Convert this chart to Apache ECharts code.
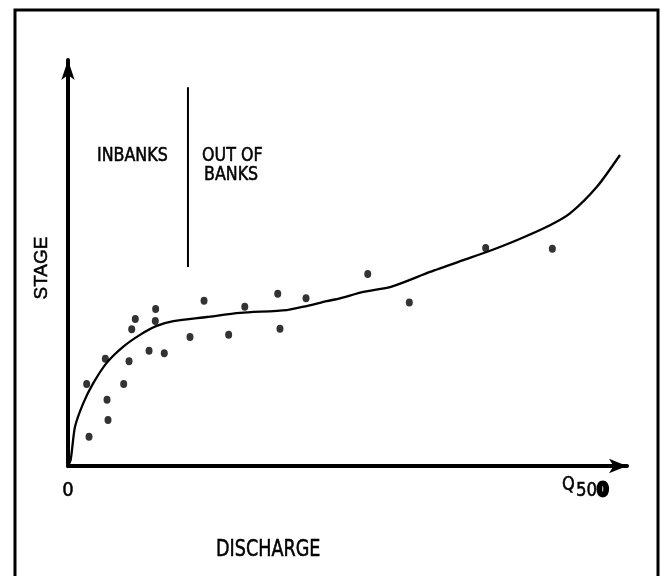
<!DOCTYPE html>
<html>
<head>
<meta charset="utf-8">
<script src="https://cdn.jsdelivr.net/npm/echarts@6/dist/echarts.min.js"></script>
<style>
  html, body { margin: 0; padding: 0; background: #fff; }
  #chart { width: 662px; height: 576px; }
</style>
</head>
<body>
<div id="chart"></div>
<script>
// Observed gauge readings: discharge (x) and stage (y)
const obsDischarge = [16.7, 18.8, 33.4, 34.9, 35.8, 49.8, 54.6, 57.0, 60.2, 72.5, 78.4, 78.1,
  86.1, 109.1, 121.7, 143.7, 158.1, 187.6, 189.6, 212.9, 268.1, 305.3, 373.6, 433.2];
const obsStage = [20.2, 7.2, 26.4, 16.3, 11.3, 20.2, 25.8, 33.7, 36.2, 28.4, 38.7, 35.7,
  27.8, 31.8, 40.7, 32.3, 39.2, 42.4, 33.8, 41.3, 47.3, 40.3, 53.7, 53.5];

// Fitted stage-discharge rating curve
const curveDischarge = [0, 2.4, 6.3, 13.7, 22.6, 34.6, 49.5, 64.4, 79.3, 94.2, 124.1, 153.9,
  195.6, 213.5, 231.4, 243.3, 264.1, 289.5, 323.8, 353.6, 374.5, 401.3, 431.1, 449.0, 472.9, 493.7];
const curveStage = [0, 1.5, 9.7, 15.5, 20.4, 25.4, 29.4, 32.3, 34.5, 35.7, 36.7, 37.7,
  38.4, 39.4, 40.6, 41.3, 42.9, 44.2, 47.8, 50.7, 52.7, 55.6, 59.3, 62.2, 68.7, 76.6];

// Bankfull divide between in-bank and out-of-bank flow
const bankDischarge = [107.3, 107.3];
const bankStage = [49.0, 93.3];

// Axis extents and labelled ticks
const xRange = [0, 500];
const yRange = [0, 100];
const xTickLabels = ['0'];

const zip = (a, b) => a.map((v, i) => [v, b[i]]);

const narrow = '"Liberation Sans Narrow", "DejaVu Sans Condensed", "Roboto Condensed", sans-serif';
const plain = '"Liberation Sans", Arial, sans-serif';
// plotter-style lettering: slightly heavier strokes
const ink = { fill: '#000', stroke: '#000', lineWidth: 0.5 };

// left-aligned, vertically centred lettering, squeezed horizontally
function lettering(text, x, y, size, squeeze, extra) {
  return {
    type: 'text', x: x, y: y, scaleX: squeeze, silent: true,
    style: Object.assign({ text: text, font: size + 'px ' + narrow,
      align: 'left', verticalAlign: 'middle' }, ink, extra || {})
  };
}

const chart = echarts.init(document.getElementById('chart'), null, { renderer: 'canvas' });

chart.setOption({
  backgroundColor: '#fff',
  animation: false,
  grid: { left: 68, right: 35, top: 60, bottom: 110 },
  xAxis: {
    type: 'value',
    min: xRange[0], max: xRange[1], interval: 500,
    axisLine: { onZero: false, lineStyle: { color: '#000', width: 4 },
      symbol: ['none', 'arrow'], symbolSize: [11, 18] },
    axisTick: { show: false },
    splitLine: { show: false },
    axisLabel: {
      margin: 15, color: '#000', fontSize: 20, fontFamily: narrow,
      textBorderColor: '#000', textBorderWidth: 0.5,
      formatter: v => (v === 0 ? xTickLabels[0] : '')
    }
  },
  yAxis: {
    type: 'value',
    min: yRange[0], max: yRange[1],
    axisLine: { onZero: false, lineStyle: { color: '#000', width: 4 },
      symbol: ['none', 'arrow'], symbolSize: [10, 20] },
    axisTick: { show: false },
    splitLine: { show: false },
    axisLabel: { show: false }
  },
  series: [
    {
      type: 'line',
      data: zip(curveDischarge, curveStage),
      smooth: 0.25,
      showSymbol: false,
      lineStyle: { color: '#000', width: 2.3 },
      z: 3
    },
    {
      type: 'scatter',
      data: zip(obsDischarge, obsStage),
      symbol: 'circle',
      symbolSize: [7, 8],
      itemStyle: { color: '#000' },
      z: 4
    },
    {
      type: 'line',
      data: zip(bankDischarge, bankStage),
      showSymbol: false,
      lineStyle: { color: '#000', width: 2 },
      z: 3
    }
  ],
  graphic: [
    {
      type: 'rect',
      shape: { x: 15, y: 10, width: 643, height: 620 },
      style: { fill: 'none', stroke: '#000', lineWidth: 3 },
      silent: true
    },
    lettering('INBANKS', 97, 156, 19, 0.93),
    lettering('OUT OF', 202, 156, 19, 0.93),
    lettering('BANKS', 204, 175, 19, 0.93),
    lettering('DISCHARGE', 216, 550, 23, 0.85),
    lettering('Q', 562, 485, 19, 0.95),
    {
      type: 'text', x: 576, y: 491, scaleX: 0.92, silent: true,
      style: {
        text: '{a|50}{b|0}', align: 'left', verticalAlign: 'middle',
        rich: {
          a: { font: '20px ' + narrow, fill: '#000', stroke: '#000', lineWidth: 0.5 },
          b: { font: 'bold 20px ' + narrow, fill: '#000', stroke: '#000', lineWidth: 3 }
        }
      }
    },
    {
      type: 'text', x: 42, y: 268, rotation: Math.PI / 2, silent: true,
      style: Object.assign({ text: 'STAGE', font: '19px ' + plain, align: 'center', verticalAlign: 'middle' }, ink)
    }
  ]
});
</script>
</body>
</html>
